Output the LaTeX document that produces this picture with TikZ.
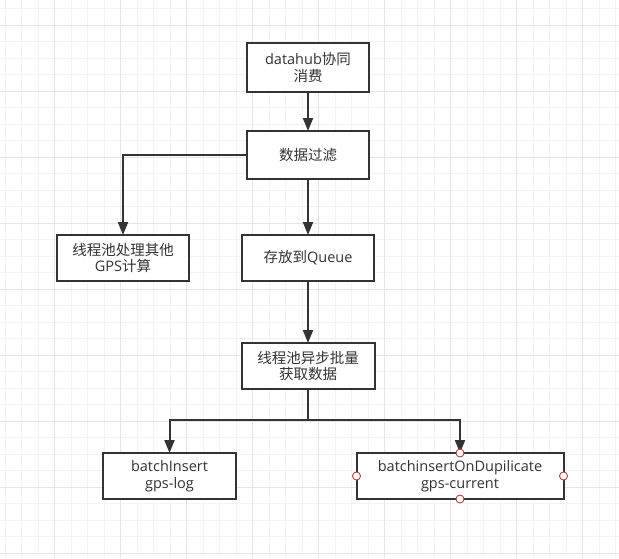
\documentclass[tikz,border=0pt]{standalone}
\usepackage{fontspec}
\setmainfont{Open Sans}
\newfontfamily\cjk{Noto Sans CJK SC}
\usetikzlibrary{arrows.meta}
\definecolor{ink}{HTML}{333333}
\definecolor{gminor}{HTML}{F3F3F3}
\definecolor{gmajor}{HTML}{E5E5E5}
\definecolor{cpred}{HTML}{B04040}
\tikzset{
  box/.style={draw=ink, line width=2pt, fill=white, rectangle, outer sep=0pt, inner sep=2pt,
    align=center, text=ink, font=\fontsize{14.5}{16.8}\selectfont},
  arr/.style={draw=ink, line width=2pt, -{Triangle[length=13pt,width=10pt]}},
  ln/.style={draw=ink, line width=2pt},
  cpt/.style={circle, draw=cpred, fill=white, line width=0.9pt, minimum size=8pt, inner sep=0pt}
}
\begin{document}
\begin{tikzpicture}[x=1pt,y=-1pt]
\useasboundingbox (0,0) rectangle (619,558);
\fill[white] (0,0) rectangle (619,558);
% grid
\foreach \i in {0,...,37} {\draw[gminor, line width=1pt] ({5+16.5*\i},0) -- ({5+16.5*\i},558);}
\foreach \i in {0,...,33} {\draw[gminor, line width=1pt] (0,{8.5+16.5*\i}) -- (619,{8.5+16.5*\i});}
\foreach \i in {-1,...,8} {\draw[gmajor, line width=1pt] ({54.5+66*\i},0) -- ({54.5+66*\i},558);}
\foreach \i in {0,...,8} {\draw[gmajor, line width=1pt] (0,{25+66*\i}) -- (619,{25+66*\i});}
% boxes
\node[box, minimum width=122pt, minimum height=49pt] (b1) at (308,67.5) {datahub{\cjk 协同}\\{\cjk 消费}};
\node[box, minimum width=122pt, minimum height=48pt] (b2) at (308,155) {{\cjk 数据过滤}};
\node[box, minimum width=132pt, minimum height=46pt] (b3) at (123,258) {{\cjk 线程池处理其他}\\GPS{\cjk 计算}};
\node[box, minimum width=132pt, minimum height=46pt] (b4) at (308,258) {{\cjk 存放到}Queue};
\node[box, minimum width=133pt, minimum height=46pt] (b5) at (308,366) {{\cjk 线程池异步批量}\\{\cjk 获取数据}};
\node[box, minimum width=133pt, minimum height=46pt] (b6) at (169.5,476) {batchInsert\\gps-log};
\node[box, minimum width=207pt, minimum height=46pt] (b7) at (460,476) {batchinsertOnDupilicate\\gps-current};
\coordinate (j) at (308,420);
% connectors
\draw[arr] (b1.south) -- (b2.north);
\draw[arr] (b2.west) -| (b3.north);
\draw[arr] (b2.south) -- (b4.north);
\draw[arr] (b4.south) -- (b5.north);
\draw[ln] (b5.south) -- (j);
\draw[arr] (j) -| (b6.north);
\draw[arr] (j) -| (b7.north);
% connection points
\node[cpt] (p1) at (b7.north) {};
\node[cpt] (p2) at (b7.south) {};
\node[cpt] (p3) at (b7.west) {};
\node[cpt] (p4) at (b7.east) {};
\end{tikzpicture}
\end{document}
